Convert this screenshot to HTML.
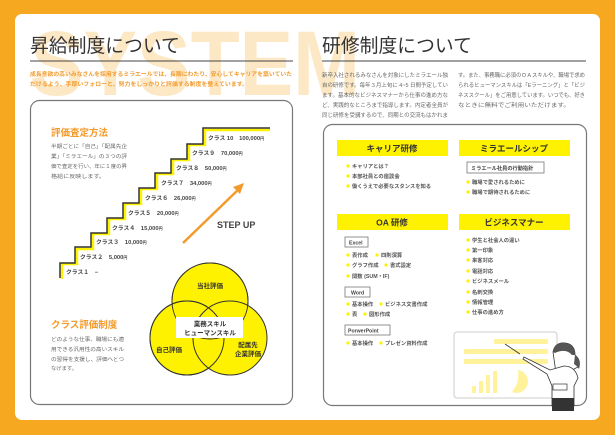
<!DOCTYPE html>
<html><head><meta charset="utf-8"><style>
html,body{margin:0;padding:0;width:615px;height:435px;overflow:hidden;background:#f6a820}
svg{display:block}
text{font-family:"Liberation Sans","Noto Sans CJK JP",sans-serif}
</style></head><body>
<svg width="615" height="435" viewBox="0 0 615 435" xmlns="http://www.w3.org/2000/svg">
<rect x="0" y="0" width="615" height="435" fill="#f6a820"/>
<rect x="15" y="14" width="585" height="406" rx="7" fill="#fff"/>
<text x="30" y="95" font-size="92" font-weight="bold" fill="#fde8c6" textLength="330" lengthAdjust="spacingAndGlyphs">SYSTEM</text>

<!-- left header -->
<text x="30" y="52" font-size="19" fill="#333" textLength="150" lengthAdjust="spacingAndGlyphs">昇給制度について</text>
<line x1="30" y1="61" x2="293" y2="61" stroke="#444" stroke-width="1"/>
<g font-size="5.6" fill="#f39a2c" font-weight="bold">
<text x="30" y="76" textLength="262" lengthAdjust="spacingAndGlyphs">成長意欲の高いみなさんを採用するミラエールでは、長期にわたり、安心してキャリアを築いていた</text>
<text x="30" y="86" textLength="218" lengthAdjust="spacingAndGlyphs">だけるよう、手厚いフォローと、努力をしっかりと評価する制度を整えています。</text>
</g>

<!-- right header -->
<text x="322" y="52" font-size="19" fill="#333" textLength="150" lengthAdjust="spacingAndGlyphs">研修制度について</text>
<line x1="322" y1="61" x2="586" y2="61" stroke="#444" stroke-width="1"/>
<g font-size="5.4" fill="#666">
<text x="322" y="77" textLength="126" lengthAdjust="spacingAndGlyphs">新卒入社されるみなさんを対象にしたミラエール独</text>
<text x="322" y="87" textLength="126" lengthAdjust="spacingAndGlyphs">自の研修です。毎年３月上旬に 4~5 日間予定してい</text>
<text x="322" y="97" textLength="126" lengthAdjust="spacingAndGlyphs">ます。基本的なビジネスマナーから仕事の進め方な</text>
<text x="322" y="107" textLength="126" lengthAdjust="spacingAndGlyphs">ど、実践的なところまで指導します。内定者全員が</text>
<text x="322" y="117" textLength="126" lengthAdjust="spacingAndGlyphs">同じ研修を受講するので、同期との交流もはかれま</text>
<text x="458" y="77" textLength="127" lengthAdjust="spacingAndGlyphs">す。また、事務職に必須のＯＡスキルや、職場で求め</text>
<text x="458" y="87" textLength="127" lengthAdjust="spacingAndGlyphs">られるヒューマンスキルは「Eラーニング」と「ビジ</text>
<text x="458" y="97" textLength="127" lengthAdjust="spacingAndGlyphs">ネススクール」をご用意しています。いつでも、好き</text>
<text x="458" y="107" textLength="112" lengthAdjust="spacingAndGlyphs">なときに無料でご利用いただけます。</text>
</g>

<!-- left box -->
<rect x="30.5" y="100.5" width="262" height="304" rx="9" fill="#fff" stroke="#777" stroke-width="1.2"/>
<text x="51" y="136" font-size="9.5" font-weight="bold" fill="#f39a2c">評価査定方法</text>
<g font-size="5.3" fill="#666">
<text x="51" y="148" textLength="76" lengthAdjust="spacingAndGlyphs">半期ごとに「自己」「配属先企</text>
<text x="51" y="158" textLength="76" lengthAdjust="spacingAndGlyphs">業」「ミラエール」の３つの評</text>
<text x="51" y="168" textLength="76" lengthAdjust="spacingAndGlyphs">価で査定を行い、年に１度の昇</text>
<text x="51" y="178" textLength="54" lengthAdjust="spacingAndGlyphs">格給に反映します。</text>
</g>

<!-- stairs -->
<path d="M62,279 V264 H77 V249 H93 V234 H109 V219 H125 V204 H141 V189 H157 V174 H173 V160 H189 V145 H205 V130 H270" fill="none" stroke="#fff200" stroke-width="2.5"/>
<path d="M60,278 V263 H75 V247 H91 V233 H107 V218 H123 V203 H139 V188 H155 V173 H171 V159 H187 V144 H203 V128 H270" fill="none" stroke="#333" stroke-width="1.5"/>
<g font-size="5.8" font-weight="bold" fill="#444">
<text x="66" y="274">クラス１　−</text>
<text x="80" y="259">クラス２　5,000<tspan font-size="4">円</tspan></text>
<text x="96" y="244">クラス３　10,000<tspan font-size="4">円</tspan></text>
<text x="112" y="230">クラス４　15,000<tspan font-size="4">円</tspan></text>
<text x="128" y="215">クラス５　20,000<tspan font-size="4">円</tspan></text>
<text x="145" y="200">クラス６　26,000<tspan font-size="4">円</tspan></text>
<text x="161" y="185">クラス７　34,000<tspan font-size="4">円</tspan></text>
<text x="176" y="170">クラス８　50,000<tspan font-size="4">円</tspan></text>
<text x="192" y="155">クラス９　70,000<tspan font-size="4">円</tspan></text>
<text x="208" y="140">クラス 10　100,000<tspan font-size="4">円</tspan></text>
</g>
<line x1="183" y1="243" x2="240" y2="188" stroke="#f39a2c" stroke-width="2.5"/>
<polygon points="244,183 233,187 240,194" fill="#f39a2c"/>
<text x="217" y="228" font-size="9" font-weight="bold" fill="#444">STEP UP</text>

<!-- venn -->
<g fill="#fff200" stroke="#333" stroke-width="1">
<circle cx="210" cy="301" r="38"/>
<circle cx="187" cy="338" r="37"/>
<circle cx="230" cy="338" r="37"/>
</g>
<g fill="none" stroke="#333" stroke-width="1">
<circle cx="210" cy="301" r="38"/>
<circle cx="187" cy="338" r="37"/>
</g>
<rect x="176" y="317" width="67" height="21" fill="#fff"/>
<g font-size="6.5" font-weight="bold" fill="#333" text-anchor="middle">
<text x="210" y="288">当社評価</text>
<text x="210" y="326">業務スキル</text>
<text x="210" y="335">ヒューマンスキル</text>
<text x="169" y="352">自己評価</text>
<text x="248" y="347">配属先</text>
<text x="248" y="356">企業評価</text>
</g>
<text x="51" y="328" font-size="9.5" font-weight="bold" fill="#f39a2c">クラス評価制度</text>
<g font-size="5.3" fill="#666">
<text x="51" y="341" textLength="73" lengthAdjust="spacingAndGlyphs">どのような仕事、職場にも適</text>
<text x="51" y="351" textLength="73" lengthAdjust="spacingAndGlyphs">用できる汎用性の高いスキル</text>
<text x="51" y="361" textLength="73" lengthAdjust="spacingAndGlyphs">の習得を支援し、評価へとつ</text>
<text x="51" y="370">なげます。</text>
</g>

<!-- right box -->
<rect x="323.5" y="124.5" width="263" height="281" rx="9" fill="#fff" stroke="#777" stroke-width="1.2"/>
<g fill="#fff200">
<rect x="337" y="140" width="111" height="16"/>
<rect x="459" y="140" width="111" height="16"/>
<rect x="337" y="214" width="111" height="16"/>
<rect x="459" y="214" width="111" height="16"/>
</g>
<g font-size="8.5" font-weight="bold" fill="#333" text-anchor="middle">
<text x="392" y="151.5">キャリア研修</text>
<text x="514" y="151.5">ミラエールシップ</text>
<text x="392" y="225.5">OA 研修</text>
<text x="514" y="225.5">ビジネスマナー</text>
</g>
<g fill="#fff200">
<circle cx="348" cy="166" r="1.6"/><circle cx="348" cy="176" r="1.6"/><circle cx="348" cy="186" r="1.6"/>
<circle cx="468" cy="182" r="1.6"/><circle cx="468" cy="192" r="1.6"/>
<circle cx="348" cy="255" r="1.6"/><circle cx="377" cy="255" r="1.6"/>
<circle cx="348" cy="265" r="1.6"/><circle cx="386" cy="265" r="1.6"/>
<circle cx="348" cy="276" r="1.6"/>
<circle cx="348" cy="304" r="1.6"/><circle cx="381" cy="304" r="1.6"/>
<circle cx="348" cy="314" r="1.6"/><circle cx="365" cy="314" r="1.6"/>
<circle cx="348" cy="343" r="1.6"/><circle cx="381" cy="343" r="1.6"/>
<circle cx="468" cy="240" r="1.6"/><circle cx="468" cy="250" r="1.6"/><circle cx="468" cy="260" r="1.6"/>
<circle cx="468" cy="271" r="1.6"/><circle cx="468" cy="281" r="1.6"/><circle cx="468" cy="292" r="1.6"/>
<circle cx="468" cy="302" r="1.6"/><circle cx="468" cy="312" r="1.6"/>
</g>
<g font-size="5.3" font-weight="bold" fill="#555">
<text x="352" y="168">キャリアとは？</text>
<text x="352" y="178">本部社員との座談会</text>
<text x="352" y="188">働くうえで必要なスタンスを知る</text>
<text x="472" y="184">職場で愛されるために</text>
<text x="472" y="194">職場で期待されるために</text>
<text x="352" y="257">表作成</text><text x="381" y="257">四則演算</text>
<text x="352" y="267">グラフ作成</text><text x="390" y="267">書式設定</text>
<text x="352" y="278">関数 (SUM・IF)</text>
<text x="352" y="306">基本操作</text><text x="385" y="306">ビジネス文書作成</text>
<text x="352" y="316">表</text><text x="369" y="316">図形作成</text>
<text x="352" y="345">基本操作</text><text x="385" y="345">プレゼン資料作成</text>
<text x="472" y="242">学生と社会人の違い</text>
<text x="472" y="252">第一印象</text>
<text x="472" y="262">来客対応</text>
<text x="472" y="273">電話対応</text>
<text x="472" y="283">ビジネスメール</text>
<text x="472" y="294">名刺交換</text>
<text x="472" y="304">情報管理</text>
<text x="472" y="314">仕事の進め方</text>
</g>
<g fill="#fff" stroke="#777" stroke-width="0.8">
<rect x="467" y="162" width="77" height="11"/>
<rect x="345" y="237" width="23" height="10"/>
<rect x="345" y="287" width="25" height="10"/>
<rect x="345" y="325" width="45" height="10"/>
</g>
<g font-size="5.2" font-weight="bold" fill="#444">
<text x="471" y="170">ミラエール社員の行動指針</text>
<text x="349" y="244.5">Excel</text>
<text x="351" y="294.5">Word</text>
<text x="348" y="332.5">PorwerPoint</text>
</g>

<!-- illustration -->
<rect x="454" y="332" width="103" height="66" rx="3" fill="#fff" stroke="#ccc" stroke-width="1"/>
<g fill="#fff29a">
<rect x="494" y="339" width="54" height="5" rx="1"/>
<rect x="464" y="349" width="84" height="5" rx="1"/>
<rect x="464" y="359" width="84" height="5" rx="1"/>
<rect x="472" y="386" width="4" height="7"/><rect x="479" y="381" width="4" height="12"/><rect x="486" y="375" width="4" height="18"/><rect x="493" y="371" width="4" height="22"/>
<path d="M519,370 A11,12 0 0 1 519,393 A14,14 0 0 0 519,370 Z"/>
<path d="M518,370 A11.5,11.5 0 1 1 512,392 Q520,382 518,370Z"/>
</g>
<line x1="505" y1="344" x2="520" y2="354" stroke="#333" stroke-width="0.8"/>
<!-- woman -->
<path d="M553,352 q2,-10 12,-9 q10,1 10,12 q5,4 3,12 l-4,2 q-1,6 -6,6 l-12,-2 z" fill="#fff" stroke="#333" stroke-width="0.8"/>
<path d="M553,352 q2,-10 12,-9 q10,1 10,12 l-3,0 q-6,-7 -17,-2z" fill="#555"/>
<path d="M575,355 q7,4 4,14 q-3,-4 -5,-5z" fill="#555"/>
<path d="M550,370 l-26,-13 l-1,2 l24,15 l5,12 v20 h22 v-20 l4,-8 q-3,-12 -14,-12 z" fill="#fff" stroke="#333" stroke-width="0.8"/>
<rect x="552" y="398" width="22" height="13" fill="#333"/>
<rect x="553" y="384" width="14" height="6" fill="#fff" stroke="#333" stroke-width="0.7"/>
</svg>
</body></html>
